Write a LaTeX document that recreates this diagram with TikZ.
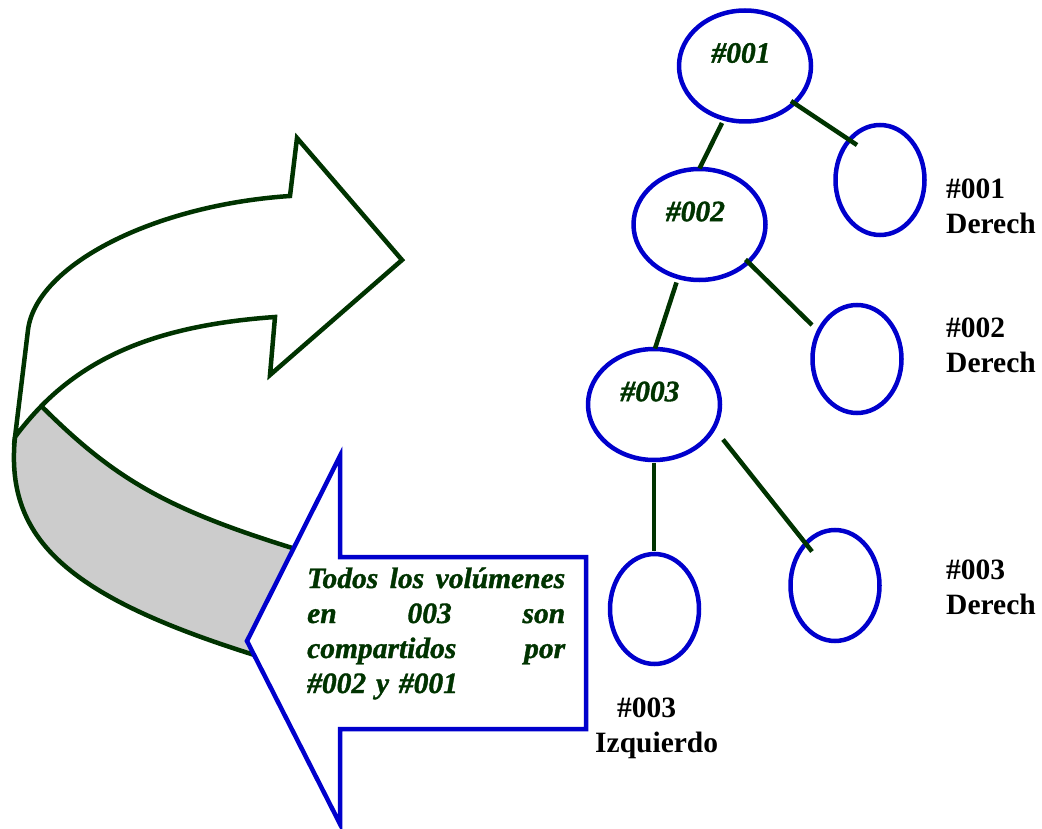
\documentclass[tikz,border=0pt]{standalone}
\usepackage{fontspec}
\setmainfont{Liberation Serif}[BoldItalicFont={Liberation Serif Bold Italic},
  BoldItalicFeatures={FakeBold=1.2}]
\usetikzlibrary{shapes.geometric}
\definecolor{leaf}{HTML}{003300}
\definecolor{edgeblue}{HTML}{0000CC}
\definecolor{band}{HTML}{CCCCCC}

\begin{document}
\begin{tikzpicture}[x=1pt,y=-1pt,
  ring/.style={draw=edgeblue, line width=4.5pt, ellipse, inner sep=0pt},
  volring/.style={ring, minimum width=132pt, minimum height=111pt},
  leafring/.style={ring, minimum width=89pt, minimum height=110pt},
  branch/.style={draw=leaf, line width=4.5pt},
  idtext/.style={text=leaf, font=\fontsize{29.5}{35}\selectfont\bfseries\itshape,
                 inner sep=0pt, xshift=-4pt, yshift=13pt},
  tag/.style={font=\fontsize{29.5}{35}\selectfont\bfseries, align=left,
              inner sep=0pt, anchor=base west},
  ribbon/.style={draw=leaf, line width=4.5pt, line join=miter},
]
\useasboundingbox (0,0) rectangle (1042,829);

% back (shaded) half of the turning band
\fill[band]
  (41.35,406.05) .. controls (32,415.65) and (23.25,425.9) .. (15,437)
  .. controls (3.9,547.8) and (78.1,606.5) .. (312,672)
  -- (312,554)
  .. controls (171.8,511.9) and (117.7,482.4) .. (41.35,406.05)
  -- cycle;
\draw[ribbon] (15,437) .. controls (3.9,547.8) and (78.1,606.5) .. (312,672);
\draw[ribbon] (41.35,406.05) .. controls (117.7,482.4) and (171.8,511.9) .. (312,554);

% front half of the band, ending in the arrow head
\filldraw[ribbon, fill=white]
  (290,196) -- (297,138) -- (402,260) -- (270,375) -- (275,317)
  .. controls (167.05,324.65) and (94.45,351.85) .. (41.35,406.05)
  .. controls (32,415.65) and (23.25,425.9) .. (15,437)
  -- (28,330)
  .. controls (36,265) and (154,205) .. (290,196)
  -- cycle;

% left-pointing block arrow with the note
\filldraw[draw=edgeblue, fill=white, line width=4.5pt, line join=miter]
  (247,641) -- (340,456) -- (340,557) -- (586,557) -- (586,729)
  -- (340,729) -- (340,824) -- cycle;
\node[text=leaf, font=\fontsize{29.5}{35}\selectfont\bfseries\itshape,
      text width=258pt, align=left, inner sep=0pt, anchor=base west] (note) at (307,588)
  {Todos\hfill los\hfill volúmenes\\en\hfill 003\hfill son\\compartidos\hfill por\\\#002 y \#001};

% volume tree
\node[volring, label={[idtext]center:\#001}] (n001) at (745,66) {};
\node[volring, label={[idtext]center:\#002}] (n002) at (699.5,224.5) {};
\node[volring, label={[idtext]center:\#003}] (n003) at (654,404.5) {};
\node[leafring] (r001) at (880,180) {};
\node[leafring, minimum height=108pt] (r002) at (857,359) {};
\node[leafring] (l003) at (654.5,609) {};
\node[leafring, minimum height=111pt] (r003) at (835,585.5) {};

\draw[branch] ([shift={(-23,57)}]n001.center) -- ([shift={(0,-56)}]n002.center);
\draw[branch] ([shift={(46,35)}]n001.center) -- ([shift={(-23,-35)}]r001.center);
\draw[branch] ([shift={(-23,58)}]n002.center) -- ([shift={(1,-56)}]n003.center);
\draw[branch] ([shift={(46,35)}]n002.center) -- ([shift={(-45,-34)}]r002.center);
\draw[branch] ([shift={(0,58)}]n003.center) -- ([shift={(-0.5,-58)}]l003.center);
\draw[branch] ([shift={(69,35)}]n003.center) -- ([shift={(-23,-34)}]r003.center);

% side labels (anchored on the baseline of their last line)
\node[tag] (t001) at (946,234) {\#001\\Derech};
\node[tag] (t002) at (946,372) {\#002\\Derech};
\node[tag] (t003) at (946,614) {\#003\\Derech};
\node[tag] (t003l) at (595,752) {\hspace*{22pt}\#003\\Izquierdo};
\end{tikzpicture}
\end{document}
